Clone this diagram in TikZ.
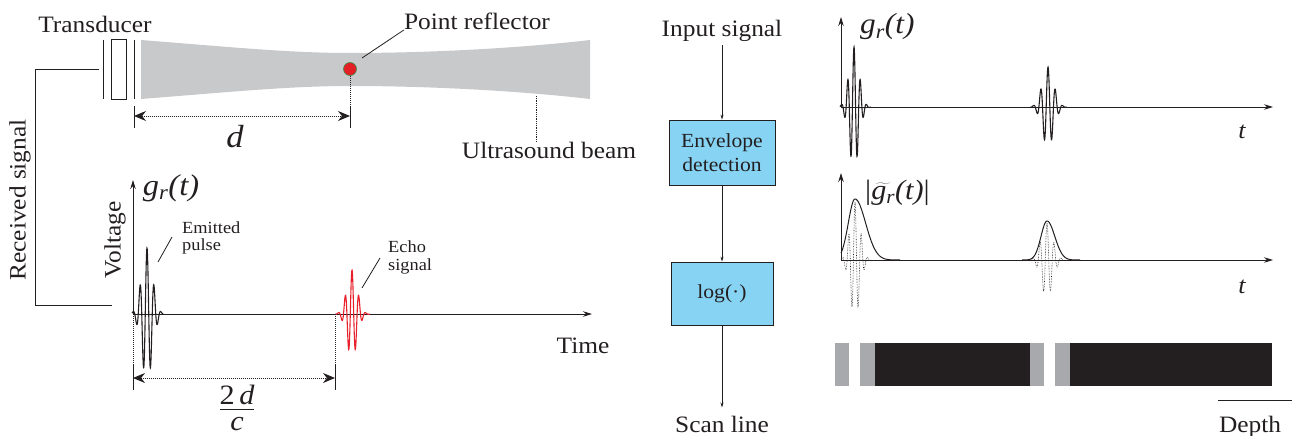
\documentclass[tikz,border=0pt]{standalone}
\usepackage{fix-cm}
\usepackage{fontspec}
\setmainfont{Liberation Serif}[FakeStretch=1.08]
\usetikzlibrary{arrows.meta,calc}

\definecolor{ink}{HTML}{231F20}
\definecolor{beamgray}{HTML}{C8C9CB}
\definecolor{dotred}{HTML}{E31E24}
\definecolor{dotrim}{HTML}{3A8A4A}
\definecolor{echored}{HTML}{E8202A}
\definecolor{boxblue}{HTML}{86D3F4}
\definecolor{bargray}{HTML}{A7A9AC}
\definecolor{barblack}{HTML}{231F20}

% g_r(t) written in italic text
\newcommand\grt{\textit{g\textsubscript{r}(t)}}
% Gaussian-windowed tone burst: style, centre, period, amplitude, sigma, axis y, domain
\newcommand\toneburst[7]{%
  \draw[#1] plot[domain=#7,samples=200]
    (\x,{#6-#4*exp(-(((\x-#2)/#5)^2))*cos(360*(\x-#2)/#3)});}
% Skewed Gaussian envelope: style, peak x, amplitude, sigma left, sigma right, axis y, start, end
\newcommand\envcurve[8]{%
  \draw[#1] plot[domain=#7:#2,samples=80] (\x,{#6-#3*exp(-(((\x-#2)/#4)^2))})
    -- plot[domain=#2:#8,samples=120] (\x,{#6-#3*exp(-(((\x-#2)/#5)^2))});}

\tikzset{
  lbl/.style={inner sep=0pt, text=ink, font=\fontsize{23.5}{26}\selectfont},
  smalllbl/.style={inner sep=0pt, text=ink, align=left},
  mathlbl/.style={inner sep=0pt, text=ink, font=\fontsize{30}{32}\selectfont},
  axis/.style={line width=1pt, -{Stealth[length=9pt,width=5.5pt]}},
  wave/.style={line width=1.1pt},
  carrier/.style={line width=0.6pt, densely dotted},
  flow/.style={line width=0.6pt, -{Stealth[length=5pt,width=3pt]}},
  procbox/.style={draw=ink, line width=0.8pt, fill=boxblue, inner sep=0pt,
    align=center, text=ink, font=\fontsize{20}{24}\selectfont},
  dimline/.style={densely dotted, line width=1pt,
    {Stealth[length=12pt,width=10pt]}-{Stealth[length=12pt,width=10pt]}},
  guide/.style={densely dotted, line width=1pt},
  tick/.style={line width=1pt},
  fracpart/.style={inner sep=0pt, text=ink, font=\fontsize{28}{30}\selectfont},
}

\begin{document}
\begin{tikzpicture}[x=1pt,y=-1pt,color=ink]
\useasboundingbox (0,0) rectangle (1292,436);

% ---------- transducer and beam ----------
\fill[beamgray] (141,40) .. controls (230,47) and (290,53) .. (350,53)
  .. controls (440,53) and (530,47) .. (590,40) -- (590,99)
  .. controls (530,92) and (440,86) .. (350,86)
  .. controls (290,86) and (230,92) .. (141,99) -- cycle;
\draw[line width=1pt] (103,40) -- (103,99);
\draw[line width=1pt] (111,40) rectangle (126,99);
\draw[line width=1pt] (134,40) -- (134,99);
\node[lbl, anchor=base] (trans) at (95,33) {Transducer};

\node[circle, minimum size=13pt, inner sep=0pt, fill=dotred, draw=dotrim, line width=0.6pt] (refl) at (350,69) {};
\node[lbl, anchor=base] (pref) at (477,30) {Point reflector};
\coordinate (prtip) at (362,58);
\draw[line width=0.8pt] (prtip) -- (pref.base west);

\node[lbl, anchor=base] (beamlbl) at (549,158) {Ultrasound beam};
\coordinate (beamedge) at (536,96);
\draw[guide, line width=0.8pt] (beamedge) -- (beamedge |- beamlbl.north) ++(0,-4);

% distance d
\coordinate (dL) at (134,116);
\coordinate (dR) at (350,116);
\draw[guide] (refl.south) -- (350,107);
\draw[tick] (350,107) -- (350,128);
\draw[tick] (134,106) -- (134,128);
\draw[dimline] (dL) -- (dR);
\node[inner sep=0pt, anchor=base, font=\fontsize{32}{34}\selectfont\itshape] (dlbl) at (235,147) {d};

% received-signal wire
\coordinate (wA) at (99,69);
\coordinate (wB) at (112,305);
\draw[line width=0.8pt] (wA) -- (35,69) |- (wB);
\node[lbl, rotate=90] (recv) at (20,200) {Received signal};

% ---------- received voltage trace ----------
\coordinate (o1) at (133,314);
\coordinate (o1y) at (133,180);
\coordinate (o1x) at (592,314);
\draw[axis] (o1) -- (o1y);
\draw[axis] (o1) -- (o1x);
\node[lbl, rotate=90] (volt) at (115,240) {Voltage};
\node[mathlbl, anchor=base] (g1) at (171,195) {\grt};
\node[lbl, anchor=base] (timelbl) at (583,353) {Time};

\toneburst{wave}{147}{7}{66}{7.6}{314}{132:164}
\toneburst{wave, echored}{352}{6.8}{44}{7.2}{314}{335:370}

\node[smalllbl, anchor=north west, font=\fontsize{17}{17}\selectfont] (emit) at (182,221.5) {Emitted\\pulse};
\draw[line width=0.8pt] (158,262) -- (172,237);
\node[smalllbl, anchor=north west, font=\fontsize{17}{18}\selectfont] (echo) at (388,240.5) {Echo\\signal};
\draw[line width=0.8pt] (362,288) -- (380,258);

% round-trip time 2d/c
\coordinate (tL) at (133,378);
\coordinate (tR) at (335,378);
\draw[guide] (o1) -- (133,365);
\draw[tick] (133,365) -- (133,390);
\draw[guide] (335,314) -- (335,365);
\draw[tick] (335,365) -- (335,390);
\draw[dimline] (tL) -- (tR);
\node[fracpart, anchor=base] (fnum) at (237,404) {2\,\textit{d}};
\node[fracpart, anchor=base] (fden) at (237,430) {\textit{c}};
\draw[line width=1pt] (220,409.5) -- (254,409.5);

% ---------- processing chain ----------
\node[lbl, anchor=base] (insig) at (722,37) {Input signal};
\node[procbox, minimum width=106pt, minimum height=65pt] (env) at (722,152.5) {Envelope\\detection};
\node[procbox, minimum width=102pt, minimum height=63pt] (logb) at (722,293.5) {log(·)};
\node[lbl, anchor=base] (scan) at (722,432) {Scan line};
\draw[flow, shorten <=3pt] (insig.south) -- (env.north);
\draw[flow] (env.south) -- (logb.north);
\draw[flow, shorten >=8pt] (logb.south) -- (scan.north);

% ---------- RF line ----------
\coordinate (o2) at (841,107);
\coordinate (o2y) at (841,17);
\coordinate (o2x) at (1273,107);
\draw[axis] (o2) -- (o2y);
\draw[axis] (o2) -- (o2x);
\node[mathlbl, anchor=base west, font=\fontsize{29}{31}\selectfont] (g2) at (860,34) {\grt};
\node[inner sep=0pt, anchor=base, text=ink, font=\fontsize{24}{26}\selectfont\itshape] (t1) at (1242,138) {t};
\toneburst{wave}{854}{6.3}{60}{7}{107}{840:871}
\toneburst{wave}{1048}{7.3}{40}{8}{107}{1030:1067}

% ---------- envelope ----------
\coordinate (o3) at (841,260);
\coordinate (o3y) at (841,173);
\coordinate (o3x) at (1273,260);
\toneburst{carrier}{855}{6.3}{57}{7}{260}{841:872}
\toneburst{carrier}{1047}{7}{37}{8}{260}{1031:1065}
\envcurve{line width=1pt}{855}{61}{9.5}{15}{260}{841}{900}
\envcurve{line width=1pt}{1047}{39}{8.5}{11}{260}{1022}{1080}
\draw[axis] (o3) -- (o3y);
\draw[axis] (o3) -- (o3x);
\node[inner sep=0pt, anchor=base west, text=ink, font=\fontsize{28}{30}\selectfont] (g3) at (865,199)
  {|$\widetilde{\mbox{\itshape g\textsubscript{r}}}$\textit{(t)}|};
\node[inner sep=0pt, anchor=base, text=ink, font=\fontsize{24}{26}\selectfont\itshape] (t2) at (1242,293) {t};

% ---------- brightness scan line ----------
\fill[barblack] (835,343) rectangle (1272,386);
\fill[bargray] (835,343) rectangle (849,386);
\fill[white]   (849,343) rectangle (860,386);
\fill[bargray] (860,343) rectangle (875,386);
\fill[bargray] (1030,343) rectangle (1044,386);
\fill[white]   (1044,343) rectangle (1055,386);
\fill[bargray] (1055,343) rectangle (1070,386);

\coordinate (dpA) at (1218,400);
\coordinate (dpB) at (1292,400);
\draw[line width=1pt] (dpA) -- (dpB);
\node[lbl, anchor=base] (depth) at (1250,432) {Depth};
\end{tikzpicture}
\end{document}
